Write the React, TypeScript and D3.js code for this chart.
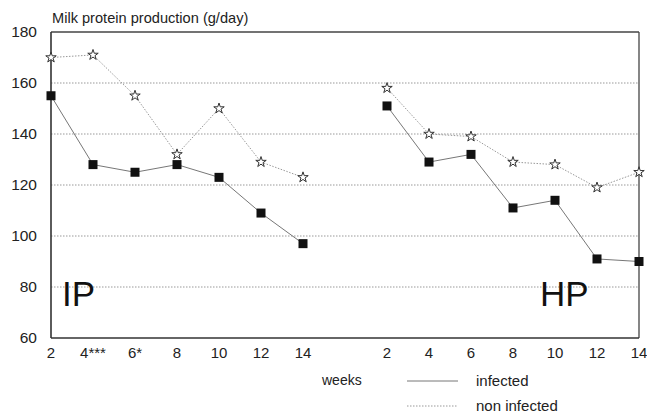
import React from 'react';
import * as d3 from 'd3';

// weeks on the x axis: two panels (IP left, HP right) with one empty slot between
const ipWeeks = ['2', '4***', '6*', '8', '10', '12', '14'];
const hpWeeks = ['2', '4', '6', '8', '10', '12', '14'];

const ipInfected = [155, 128, 125, 128, 123, 109, 97];
const ipNonInfected = [170, 171, 155, 132, 150, 129, 123];
const hpInfected = [151, 129, 132, 111, 114, 91, 90];
const hpNonInfected = [158, 140, 139, 129, 128, 119, 125];

const yTicks = [60, 80, 100, 120, 140, 160, 180];

const W = 647;
const H = 416;
const margin = { top: 32, right: 8, bottom: 78, left: 51 };

const App = () => {
  const x = d3.scaleLinear().domain([0, 14]).range([margin.left, 639]);
  const y = d3.scaleLinear().domain([60, 180]).range([338, margin.top]);

  // slot index for each panel
  const ipIdx = ipWeeks.map((_, i) => i);
  const hpIdx = hpWeeks.map((_, i) => i + 8);

  const line = d3.line<[number, number]>().x(d => x(d[0])).y(d => y(d[1]));
  const star = d3.symbol().type(d3.symbolStar).size(34)() as string;

  const series = [
    { idx: ipIdx, vals: ipNonInfected, infected: false },
    { idx: hpIdx, vals: hpNonInfected, infected: false },
    { idx: ipIdx, vals: ipInfected, infected: true },
    { idx: hpIdx, vals: hpInfected, infected: true },
  ];

  const font = 'Arial, "Liberation Sans", Helvetica, sans-serif';

  return (
    <svg width={W} height={H} style={{ position: 'absolute', left: 0, top: 0, background: '#fff' }} fontFamily={font}>
      <rect width={W} height={H} fill="#fff" />
      <text x={52} y={23} fontSize={14.6} fill="#222">Milk protein production (g/day)</text>

      {/* grid */}
      {yTicks.slice(1, -1).map(t => (
        <line key={t} x1={x(0)} x2={x(14)} y1={y(t)} y2={y(t)} stroke="#999" strokeWidth={1} strokeDasharray="1.5 1.5" />
      ))}

      {/* frame */}
      <line x1={x(0)} x2={x(14)} y1={y(180)} y2={y(180)} stroke="#444" strokeWidth={1.3} />
      <line x1={x(14)} x2={x(14)} y1={y(180)} y2={y(60)} stroke="#444" strokeWidth={1.3} />
      <line x1={x(0)} x2={x(14)} y1={y(60)} y2={y(60)} stroke="#333" strokeWidth={1.6} />
      <line x1={x(0)} x2={x(0)} y1={y(180)} y2={y(60)} stroke="#333" strokeWidth={1.6} />

      {/* y tick labels */}
      {yTicks.map(t => (
        <text key={t} x={37} y={y(t) + 5} fontSize={15.5} textAnchor="end" fill="#222">{t}</text>
      ))}

      {/* x tick labels */}
      {ipWeeks.map((w, i) => (
        <text key={'ip' + i} x={x(ipIdx[i])} y={358} fontSize={15} textAnchor="middle" fill="#222">{w}</text>
      ))}
      {hpWeeks.map((w, i) => (
        <text key={'hp' + i} x={x(hpIdx[i])} y={358} fontSize={15} textAnchor="middle" fill="#222">{w}</text>
      ))}

      {/* lines */}
      {series.map((s, k) => (
        <path key={'l' + k} d={line(s.idx.map((ix, i) => [ix, s.vals[i]]) as [number, number][]) || ''}
          fill="none" stroke={s.infected ? '#777' : '#999'} strokeWidth={1}
          strokeDasharray={s.infected ? undefined : '1.5 1.5'} />
      ))}

      {/* markers */}
      {series.map((s, k) => s.idx.map((ix, i) => s.infected ? (
        <rect key={'m' + k + '-' + i} x={x(ix) - 4.5} y={y(s.vals[i]) - 4.5} width={9} height={9} fill="#111" />
      ) : (
        <path key={'m' + k + '-' + i} d={star} transform={`translate(${x(ix)},${y(s.vals[i])})`} fill="#fff" stroke="#333" strokeWidth={1} />
      )))}

      {/* panel labels */}
      <text x={62} y={306} fontSize={35} fill="#111">IP</text>
      <text x={540} y={306} fontSize={35} fill="#111">HP</text>

      {/* legend */}
      <text x={322} y={385} fontSize={14} fill="#222">weeks</text>
      <line x1={407} x2={458} y1={381} y2={381} stroke="#777" strokeWidth={1} />
      <text x={476} y={386} fontSize={15} fill="#222">infected</text>
      <line x1={407} x2={458} y1={406} y2={406} stroke="#999" strokeWidth={1} strokeDasharray="1.5 1.5" />
      <text x={476} y={411} fontSize={15} fill="#222">non infected</text>
    </svg>
  );
};

export default App;
